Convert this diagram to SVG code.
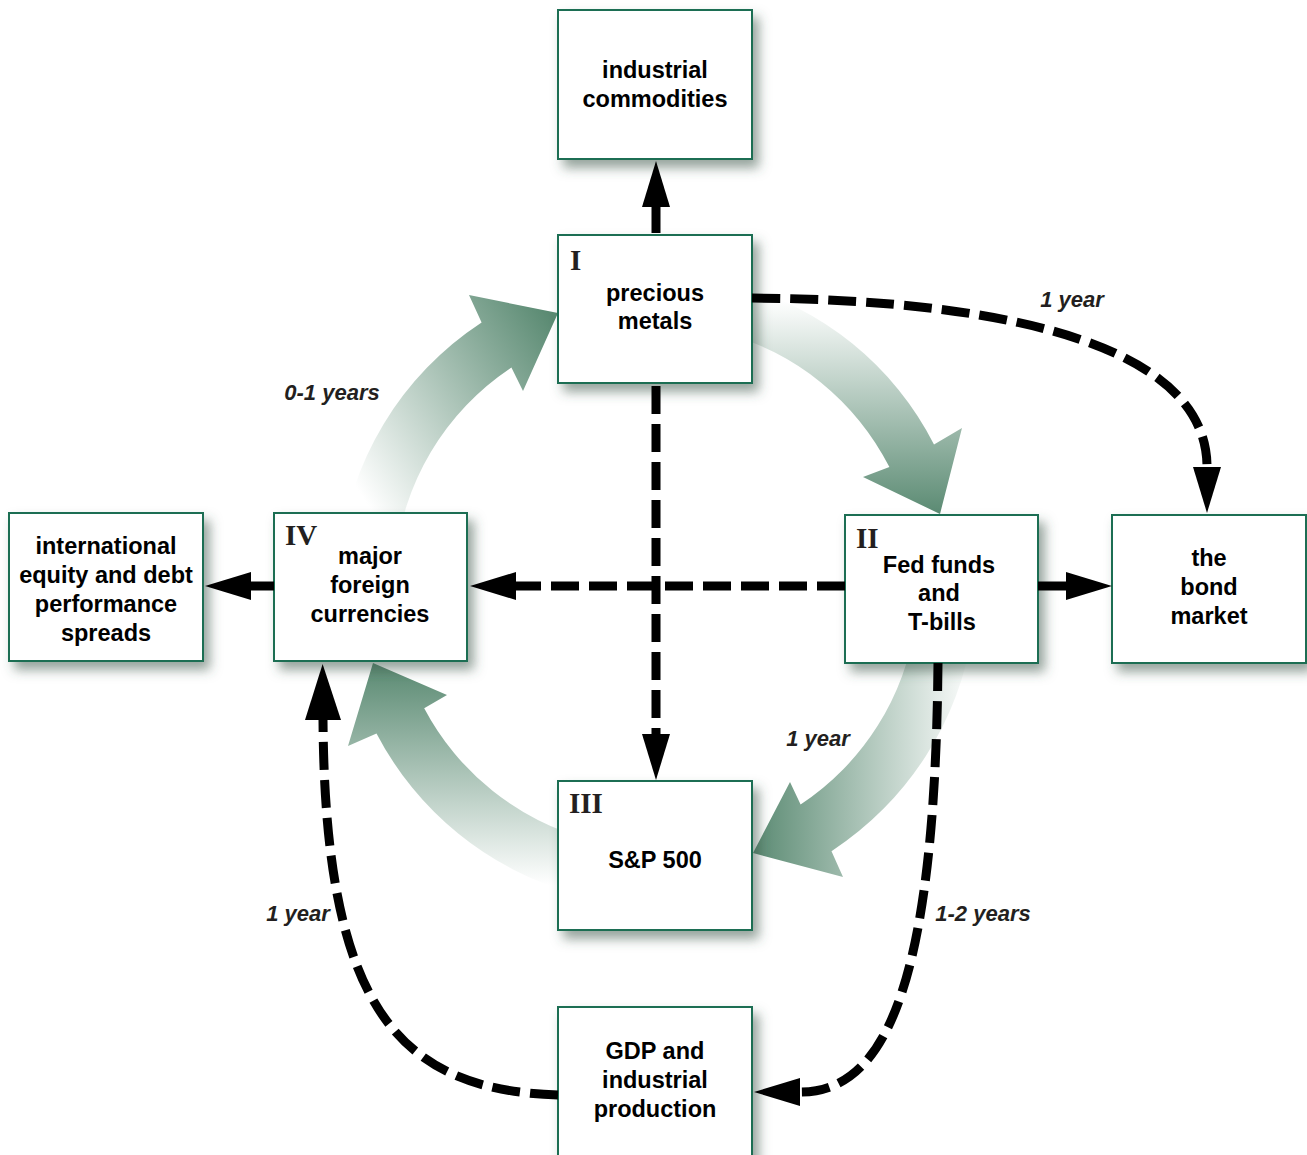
<svg xmlns="http://www.w3.org/2000/svg" width="1307" height="1155" viewBox="0 0 1307 1155">
<style>
.box{fill:#ffffff;stroke:#1f6e52;stroke-width:2;filter:url(#sh)}
.t{font-family:"Liberation Sans",Arial,Helvetica,sans-serif;font-weight:bold;font-size:23.5px;fill:#000;text-anchor:middle}
.rn{font-family:"Liberation Serif","Times New Roman",serif;font-weight:bold;font-size:29px;fill:#231f20}
.lab{font-family:"Liberation Sans",Arial,Helvetica,sans-serif;font-weight:bold;font-style:italic;font-size:22px;fill:#231f20;text-anchor:middle}
.dash{fill:none;stroke:#000;stroke-width:9;stroke-dasharray:28 10}
</style>
<defs>
<filter id="sh" x="-20%" y="-20%" width="150%" height="150%">
<feDropShadow dx="6" dy="8" stdDeviation="6" flood-color="#3d5a4c" flood-opacity="0.55"/>
</filter>
<marker id="ah" markerUnits="userSpaceOnUse" markerWidth="46" markerHeight="28" refX="0" refY="14" orient="auto" overflow="visible">
<path d="M0,0 L46,14 L0,28 Z" fill="#000"/>
</marker>
<marker id="ahb" markerUnits="userSpaceOnUse" markerWidth="56" markerHeight="36" refX="0" refY="18" orient="auto" overflow="visible">
<path d="M0,0 L56,18 L0,36 Z" fill="#000"/>
</marker>
<linearGradient id="gA" gradientUnits="userSpaceOnUse" x1="345" y1="470" x2="560" y2="330">
<stop offset="0" stop-color="#ffffff"/><stop offset="1" stop-color="#5a8a72"/>
</linearGradient>
<linearGradient id="gB" gradientUnits="userSpaceOnUse" x1="0" y1="300" x2="0" y2="515">
<stop offset="0" stop-color="#ffffff"/><stop offset="1" stop-color="#5a8a72"/>
</linearGradient>
<linearGradient id="gC" gradientUnits="userSpaceOnUse" x1="975" y1="0" x2="752" y2="0">
<stop offset="0" stop-color="#ffffff"/><stop offset="1" stop-color="#5a8a72"/>
</linearGradient>
<linearGradient id="gD" gradientUnits="userSpaceOnUse" x1="0" y1="885" x2="0" y2="665">
<stop offset="0" stop-color="#ffffff"/><stop offset="1" stop-color="#5a8a72"/>
</linearGradient>
</defs>
<rect width="1307" height="1155" fill="#ffffff"/>

<g id="cycle-arrows">
<path d="M339.2,558.3 A318,318 0 0 1 481.6,322.5 L469,295 L558,313 L523,391 L511.4,367.5 A262,262 0 0 0 395,563.2 Z" fill="url(#gA)"/>
<path d="M736.7,284.6 A312,312 0 0 1 934,444.4 L962,428 L940,514 L863,477 L889.4,467.1 A262,262 0 0 0 723.8,332.9 Z" fill="url(#gB)"/>
<path d="M972.9,630.5 A320,320 0 0 1 831.5,851.2 L843,877 L753,853 L790,782 L800.6,804.5 A262,262 0 0 0 915.5,622.5 Z" fill="url(#gC)"/>
<path d="M573.7,893.2 A318,318 0 0 1 376.5,733.4 L348,746 L373,663 L447,695 L424.2,708.2 A262,262 0 0 0 588.2,839.1 Z" fill="url(#gD)"/>
</g>

<g id="n-commodities">
<rect class="box" x="558" y="10" width="194" height="149"/>
<text class="t" x="655"><tspan x="655" y="78">industrial</tspan><tspan x="655" y="107">commodities</tspan></text>
</g>
<g id="n-precious">
<rect class="box" x="558" y="235" width="194" height="148"/>
<text class="rn" x="570" y="270">I</text>
<text class="t"><tspan x="655" y="301">precious</tspan><tspan x="655" y="329">metals</tspan></text>
</g>
<g id="n-international">
<rect class="box" x="9" y="513" width="194" height="148"/>
<text class="t"><tspan x="106" y="554">international</tspan><tspan x="106" y="583">equity and debt</tspan><tspan x="106" y="612">performance</tspan><tspan x="106" y="641">spreads</tspan></text>
</g>
<g id="n-currencies">
<rect class="box" x="274" y="513" width="193" height="148"/>
<text class="rn" x="285" y="545">IV</text>
<text class="t"><tspan x="370" y="564">major</tspan><tspan x="370" y="593">foreign</tspan><tspan x="370" y="622">currencies</tspan></text>
</g>
<g id="n-fed">
<rect class="box" x="845" y="515" width="193" height="148"/>
<text class="rn" x="856" y="548">II</text>
<text class="t"><tspan x="939" y="573">Fed funds</tspan><tspan x="939" y="601">and</tspan><tspan x="942" y="630">T-bills</tspan></text>
</g>
<g id="n-bond">
<rect class="box" x="1112" y="515" width="194" height="148"/>
<text class="t"><tspan x="1209" y="566">the</tspan><tspan x="1209" y="595">bond</tspan><tspan x="1209" y="624">market</tspan></text>
</g>
<g id="n-sp500">
<rect class="box" x="558" y="781" width="194" height="149"/>
<text class="rn" x="569" y="813">III</text>
<text class="t" x="655" y="868">S&amp;P 500</text>
</g>
<g id="n-gdp">
<rect class="box" x="558" y="1007" width="194" height="160"/>
<text class="t"><tspan x="655" y="1059">GDP and</tspan><tspan x="655" y="1088">industrial</tspan><tspan x="655" y="1117">production</tspan></text>
</g>

<g id="connectors">
<path class="dash" d="M656,233 L656,207" stroke-dasharray="19 8" marker-end="url(#ah)"/>
<path class="dash" d="M656,386 L656,734" marker-end="url(#ah)"/>
<path class="dash" d="M845,586 L516,586" marker-end="url(#ah)"/>
<path class="dash" d="M274,586 L251,586" marker-end="url(#ah)"/>
<path class="dash" d="M1038,586 L1066,586" marker-end="url(#ah)"/>
<path class="dash" d="M752,298 C1020,300 1207,350 1207,467" marker-end="url(#ah)"/>
<path class="dash" d="M938,663 C935,1000 880,1092 800,1092" marker-end="url(#ah)"/>
<path class="dash" d="M558,1095 C400,1090 325,1010 323,720" marker-end="url(#ahb)"/>
<text class="lab" x="1072" y="307">1 year</text>
<text class="lab" x="332" y="400">0-1 years</text>
<text class="lab" x="818" y="746">1 year</text>
<text class="lab" x="298" y="921">1 year</text>
<text class="lab" x="983" y="921">1-2 years</text>
</g>
</svg>
